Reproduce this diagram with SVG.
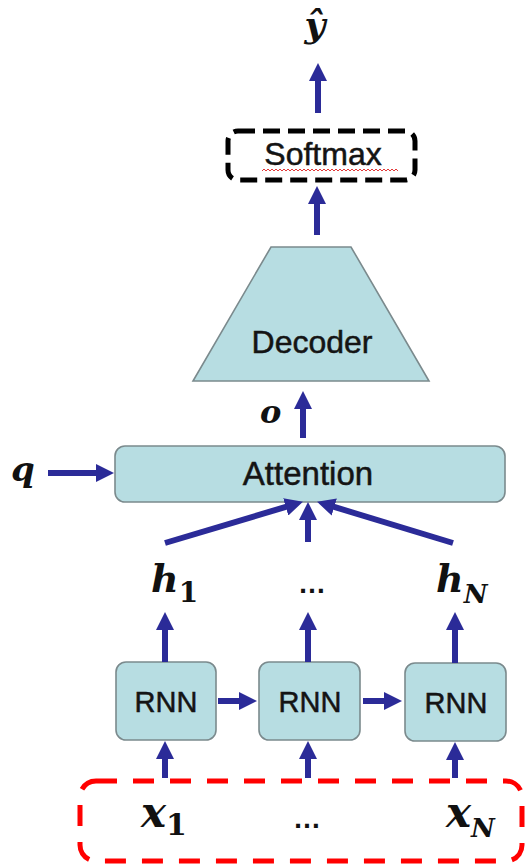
<svg xmlns="http://www.w3.org/2000/svg" width="526" height="866" viewBox="0 0 526 866">
  <style>
    .box { fill: #b7dde2; stroke: #7b8a8d; stroke-width: 1.6; }
    .lbl { font-family: "Liberation Sans", Arial, sans-serif; fill: #141414; stroke: #141414; stroke-width: 0.5; text-anchor: middle; }
    .math { font-family: "DejaVu Serif", serif; font-weight: bold; font-style: italic; fill: #111; }
    .sub { font-family: "DejaVu Serif", serif; font-weight: bold; font-style: normal; }
    .subi { font-family: "DejaVu Serif", serif; font-weight: bold; font-style: italic; }
    .dots { font-family: "Liberation Sans", Arial, sans-serif; font-weight: bold; fill: #111; }
    .arrow { stroke: #2b2b98; stroke-width: 6; fill: none; marker-end: url(#head); }
  </style>
  <defs>
    <marker id="head" viewBox="0 0 18 18" refX="1" refY="9" markerWidth="18" markerHeight="18" markerUnits="userSpaceOnUse" orient="auto">
      <path d="M0,0 L18,9 L0,18 z" fill="#2b2b98"/>
    </marker>
  </defs>

  <rect width="526" height="866" fill="#ffffff"/>

  <!-- output label -->
  <g id="yhat">
    <text x="315" y="37" font-family="DejaVu Serif, serif" font-style="italic" font-weight="bold" font-size="36" fill="#111" text-anchor="middle">ŷ</text>
  </g>

  <!-- softmax layer -->
  <g id="softmax">
    <rect x="228" y="131" width="187" height="49" rx="10" fill="none" stroke="#000" stroke-width="5" stroke-dasharray="17 8"/>
    <text class="lbl" x="323" y="165" font-size="32">Softmax</text>
    <path d="M262,171 l2,-2 l2,2 l2,-2 l2,2 l2,-2 l2,2 l2,-2 l2,2 l2,-2 l2,2 l2,-2 l2,2 l2,-2 l2,2 l2,-2 l2,2 l2,-2 l2,2 l2,-2 l2,2 l2,-2 l2,2 l2,-2 l2,2 l2,-2 l2,2 l2,-2 l2,2 l2,-2 l2,2 l2,-2 l2,2 l2,-2 l2,2 l2,-2 l2,2 l2,-2 l2,2 l2,-2 l2,2 l2,-2 l2,2 l2,-2 l2,2 l2,-2 l2,2 l2,-2 l2,2 l2,-2 l2,2 l2,-2 l2,2 l2,-2 l2,2 l2,-2 l2,2 l2,-2 l2,2 l2,-2 l2,2 l2,-2 l2,2 l2,-2 l2,2 l2,-2 l2,2 l2,-2 l2,2" fill="none" stroke="#e23a3a" stroke-width="1"/>
  </g>

  <!-- decoder -->
  <g id="decoder">
    <polygon class="box" points="271,247 351,247 429,381 193,381"/>
    <text class="lbl" x="312" y="353" font-size="32">Decoder</text>
  </g>

  <!-- attention -->
  <g id="attention">
    <rect class="box" x="115" y="446" width="390" height="56" rx="10"/>
    <text class="lbl" x="308" y="485" font-size="33">Attention</text>
  </g>

  <!-- recurrent cells -->
  <g id="rnn1">
    <rect class="box" x="116" y="662" width="100" height="78" rx="10"/>
    <text class="lbl" x="166" y="712" font-size="29">RNN</text>
  </g>
  <g id="rnn2">
    <rect class="box" x="259" y="662" width="101" height="78" rx="10"/>
    <text class="lbl" x="310" y="712" font-size="29">RNN</text>
  </g>
  <g id="rnn3">
    <rect class="box" x="405" y="663" width="101" height="78" rx="10"/>
    <text class="lbl" x="456" y="713" font-size="29">RNN</text>
  </g>

  <!-- variable labels -->
  <g id="o-label"><text class="math" x="260" y="423" font-size="32">o</text></g>
  <g id="q-label"><text class="math" x="11" y="481" font-size="34">q</text></g>
  <g id="h1-label"><text class="math" x="151" y="592" font-size="38">h<tspan class="sub" font-size="28" dy="10">1</tspan></text></g>
  <g id="hdots"><text class="dots" x="298" y="593" font-size="28">…</text></g>
  <g id="hN-label"><text class="math" x="436" y="592" font-size="38">h<tspan class="subi" font-size="26" dy="11">N</tspan></text></g>

  <!-- input sequence -->
  <g id="inputs">
    <rect x="80" y="781" width="442" height="80" rx="16" fill="none" stroke="#ff0000" stroke-width="5" stroke-dasharray="21 16"/>
    <text class="math" x="141" y="827" font-size="42">x<tspan class="sub" font-size="30" dy="8">1</tspan></text>
    <text class="dots" x="293" y="828" font-size="28">…</text>
    <text class="math" x="446" y="827" font-size="42">x<tspan class="subi" font-size="26" dy="10">N</tspan></text>
  </g>

  <!-- connectors -->
  <g id="connectors">
    <line class="arrow" x1="318" y1="113" x2="318" y2="80"/>
    <line class="arrow" x1="317" y1="235" x2="317" y2="203"/>
    <line class="arrow" x1="303" y1="438" x2="303" y2="408"/>
    <line class="arrow" x1="48" y1="473" x2="97" y2="473"/>
    <line class="arrow" x1="165" y1="543" x2="286.7" y2="506.6"/>
    <line class="arrow" x1="308" y1="542" x2="308" y2="519"/>
    <line class="arrow" x1="453" y1="543" x2="333.3" y2="506.7"/>
    <line class="arrow" x1="165" y1="662" x2="165" y2="629"/>
    <line class="arrow" x1="308" y1="662" x2="308" y2="629"/>
    <line class="arrow" x1="455" y1="663" x2="455" y2="629"/>
    <line class="arrow" x1="218" y1="701" x2="240" y2="701"/>
    <line class="arrow" x1="363" y1="701" x2="385" y2="701"/>
    <line class="arrow" x1="165" y1="778" x2="165" y2="758"/>
    <line class="arrow" x1="308" y1="778" x2="308" y2="758"/>
    <line class="arrow" x1="455" y1="778" x2="455" y2="759"/>
  </g>
</svg>
